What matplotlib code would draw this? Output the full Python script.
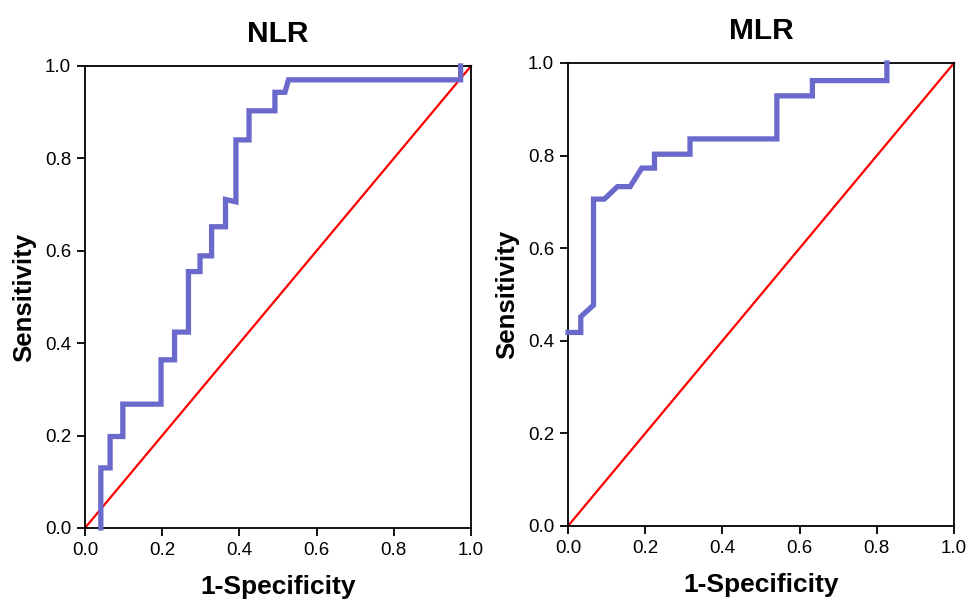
import matplotlib
matplotlib.use('Agg')
import matplotlib.pyplot as plt
import numpy as np

# ROC curve points (1-specificity, sensitivity)
nlr_fpr = [0.041, 0.041, 0.065, 0.065, 0.098, 0.098, 0.197, 0.197, 0.232, 0.232,
           0.268, 0.268, 0.298, 0.298, 0.328, 0.328, 0.364, 0.364, 0.391, 0.391,
           0.425, 0.425, 0.492, 0.492, 0.518, 0.527, 0.973, 0.973]
nlr_tpr = [0.0, 0.13, 0.13, 0.198, 0.198, 0.268, 0.268, 0.364, 0.364, 0.424,
           0.424, 0.555, 0.555, 0.589, 0.589, 0.652, 0.652, 0.711, 0.706, 0.84,
           0.84, 0.903, 0.903, 0.943, 0.943, 0.97, 0.97, 1.0]

mlr_fpr = [0.0, 0.033, 0.033, 0.066, 0.066, 0.094, 0.128, 0.161, 0.191, 0.224,
           0.224, 0.316, 0.316, 0.541, 0.541, 0.633, 0.633, 0.826, 0.826]
mlr_tpr = [0.418, 0.418, 0.452, 0.477, 0.706, 0.706, 0.733, 0.733, 0.773, 0.773,
           0.803, 0.803, 0.836, 0.836, 0.929, 0.929, 0.962, 0.962, 1.0]

ticks = [0.0, 0.2, 0.4, 0.6, 0.8, 1.0]
tick_labels = ['0.0', '0.2', '0.4', '0.6', '0.8', '1.0']

curve_col = '#6a6acd'
tick_font = ['Liberation Sans', 'DejaVu Sans']
bold_font = ['Liberation Sans', 'DejaVu Sans']

fig = plt.figure(figsize=(9.68, 6.01), dpi=100)
ax1 = fig.add_axes([0.0878, 0.1215, 0.3988, 0.7687])
ax2 = fig.add_axes([0.5868, 0.1248, 0.3988, 0.7704])

for ax, fpr, tpr, name in [(ax1, nlr_fpr, nlr_tpr, 'NLR'), (ax2, mlr_fpr, mlr_tpr, 'MLR')]:
    ax.plot([0, 1], [0, 1], c='red', lw=1.6, zorder=2, clip_on=False)
    ax.plot(fpr, tpr, c=curve_col, lw=3.8, zorder=3, clip_on=False, solid_joinstyle='miter')
    ax.set_xlim(0, 1)
    ax.set_ylim(0, 1)
    ax.set_xticks(ticks)
    ax.set_yticks(ticks)
    ax.set_xticklabels(tick_labels, family=tick_font, fontsize=13.5)
    ax.set_yticklabels(tick_labels, family=tick_font, fontsize=13.5)
    ax.tick_params(direction='out', length=6, width=1.3, pad=4)
    for s in ax.spines.values():
        s.set_linewidth(1.3)
    ax.set_xlabel('1-Specificity', family=bold_font, fontsize=19, fontweight='bold', labelpad=11.5)
    ax.set_ylabel('Sensitivity', family=bold_font, fontsize=18.5, fontweight='bold', labelpad=6)
    ax.set_title(name, family=bold_font, fontsize=21.5, fontweight='bold', pad=17)

fig.savefig('out.png', dpi=100)
